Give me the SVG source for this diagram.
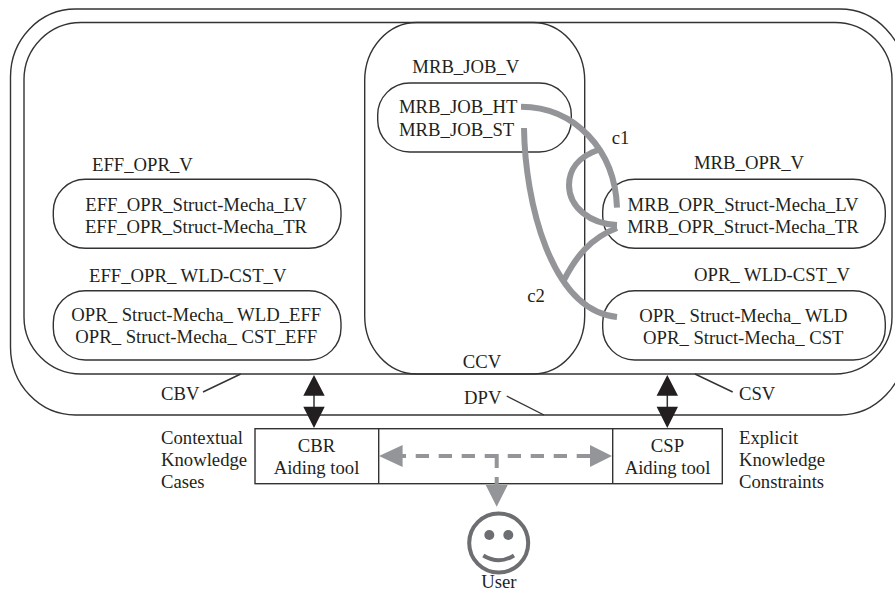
<svg xmlns="http://www.w3.org/2000/svg" width="895" height="592" viewBox="0 0 895 592">
<style>
text{font-family:"Liberation Serif","Times New Roman",serif;font-size:18.7px;fill:#231f20}
.m{text-anchor:middle}
.b{fill:none;stroke:#333335;stroke-width:1.4}
.c{fill:none;stroke:#939598;stroke-width:6}
.k{fill:#231f20;stroke:none}
.g{fill:#939598;stroke:none}
.d{fill:none;stroke:#939598;stroke-width:4}
.f{fill:none;stroke:#6d6e71;stroke-width:4}
</style>
<g id="DPV"><rect class="b" x="10.500" y="9" width="894.500" height="406" rx="65" ry="68"/><text x="464" y="404">DPV</text></g>
<g id="CBV-CSV-frame"><rect class="b" x="24" y="22.500" width="868" height="351.500" rx="57" ry="57"/><text x="161" y="400">CBV</text><text x="739" y="400">CSV</text></g>
<g id="CCV"><rect class="b" x="364.700" y="22.500" width="220" height="351.500" rx="52" ry="58"/><text class="m" x="482" y="368">CCV</text></g>
<g id="MRB_JOB_V"><text x="412.300" y="73.300">MRB_JOB_V</text><rect class="b" x="377.700" y="83" width="193.600" height="69" rx="32" ry="32"/><text x="399" y="112.700">MRB_JOB_HT</text><text x="399" y="135.700">MRB_JOB_ST</text></g>
<g id="EFF_OPR_V"><text x="92" y="170.700">EFF_OPR_V</text><rect class="b" x="53.300" y="179.300" width="287.700" height="69" rx="32" ry="32"/><text class="m" x="196" y="210.700">EFF_OPR_Struct-Mecha_LV</text><text class="m" x="196" y="232.700">EFF_OPR_Struct-Mecha_TR</text></g>
<g id="EFF_OPR_WLD-CST_V"><text x="89" y="282.300">EFF_OPR_ WLD-CST_V</text><rect class="b" x="53.300" y="290.700" width="287.700" height="69.300" rx="32" ry="32"/><text class="m" x="196.300" y="321">OPR_ Struct-Mecha_ WLD_EFF</text><text class="m" x="196.300" y="343.300">OPR_ Struct-Mecha_ CST_EFF</text></g>
<g id="MRB_OPR_V"><text x="694" y="169.300">MRB_OPR_V</text><rect class="b" x="602.700" y="179.300" width="282.600" height="69" rx="32" ry="32"/><text class="m" x="743" y="210.700">MRB_OPR_Struct-Mecha_LV</text><text class="m" x="743" y="232.700">MRB_OPR_Struct-Mecha_TR</text></g>
<g id="OPR_WLD-CST_V"><text x="694" y="281">OPR_ WLD-CST_V</text><rect class="b" x="602.700" y="290.700" width="282.600" height="69.300" rx="32" ry="32"/><text class="m" x="743.300" y="321.700">OPR_ Struct-Mecha_ WLD</text><text class="m" x="743.300" y="344">OPR_ Struct-Mecha_ CST</text></g>
<g id="tools"><rect class="b" x="255" y="428.700" width="467.300" height="55"/><path class="b" d="M 378.700 428.700 V 483.700 M 612.700 428.700 V 483.700"/><text class="m" x="316.500" y="451.700">CBR</text><text class="m" x="316.500" y="473.500">Aiding tool</text><text class="m" x="667.500" y="451.700">CSP</text><text class="m" x="667.500" y="473.500">Aiding tool</text></g>
<g id="knowledge-left"><text x="161" y="444">Contextual</text><text x="161" y="465.500">Knowledge</text><text x="161" y="488">Cases</text></g>
<g id="knowledge-right"><text x="739" y="444">Explicit</text><text x="739" y="465.500">Knowledge</text><text x="739" y="488">Constraints</text></g>
<g id="User"><circle class="f" cx="498.700" cy="543" r="29.500"/><circle cx="489.300" cy="535" r="5" fill="#6d6e71"/><circle cx="508.300" cy="535" r="5" fill="#6d6e71"/><path class="f" d="M 483.300 555.500 Q 498.700 565 514 555.500"/><text class="m" x="498.800" y="587.800">User</text></g>
<g id="labels"><text x="611.700" y="144">c1</text><text x="527.300" y="302.300">c2</text></g>
<g id="connectors">
<path class="c" d="M 521 106.700 C 575 107 615 150 617 207.700"/>
<path class="c" d="M 598 150 C 578 157 569 170 569 185 C 569 207 590 224 617 225"/>
<path class="c" d="M 524 128 C 525 200 550 310 617 317"/>
<path class="c" d="M 563 282 C 575 258 590 238 617 228"/>
<path class="b" d="M 203 392 L 240.700 374 M 506.700 396 L 544 415 M 732.700 392 L 695 374"/>
<path d="M 314 395 V 407 M 667.300 395 V 407" stroke="#333335" stroke-width="1.5"/>
<path class="k" d="M 314 375 L 324.700 395.700 H 303.300 Z M 314 428 L 324.700 406.700 H 303.300 Z M 667.300 375 L 678 395.700 H 656.600 Z M 667.300 428 L 678 406.700 H 656.600 Z"/>
<path class="d" stroke-dasharray="13.300 9.700" d="M 392.700 456 H 590"/>
<path class="d" d="M 496.700 454 V 468 M 496.700 477 V 486"/>
<path class="g" d="M 379 456 L 402.600 445 V 467 Z M 612 456 L 590 445 V 467 Z M 496.700 506.700 L 485.700 485 H 507.700 Z"/>
</g>
</svg>
